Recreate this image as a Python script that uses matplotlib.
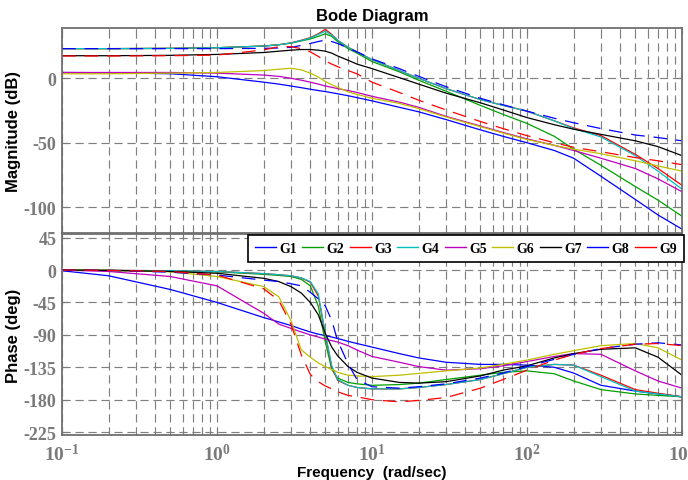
"""Bode diagram of nine transfer functions G1..G9"""

import matplotlib
matplotlib.use('Agg')
import matplotlib.pyplot as plt
from matplotlib.lines import Line2D
from matplotlib.ticker import LogLocator, NullFormatter

# frequencies the curves were read at (rad/sec)
w = [0.1, 0.2, 0.5, 1, 2, 2.5, 3, 3.5, 4, 4.5, 5, 5.5, 6, 7, 8, 10,
     15, 20, 30, 50, 70, 100, 150, 200, 300, 500, 700, 1000]

# magnitude (dB)
mag_g1 = [4.5, 4.3, 3.5, 1.2, -3, -4.5, -6, -7.3, -8.5, -9.5, -10.3, -11.2, -12, -13.5, -15, -17.5,
          -22.5, -26, -32, -40, -45, -50, -56, -62, -76, -94, -106, -117]
mag_g2 = [23, 23, 23.2, 23.7, 25, 26, 27.2, 29, 30.5, 32.5, 34.5, 32.5, 28.5, 23, 19.5, 13,
          5, -1.5, -10, -21, -28, -35, -45, -55, -67.5, -84, -94.5, -107]
mag_g3 = [23, 23, 23.2, 23.7, 25, 26, 27.5, 29.5, 31.5, 34.5, 38, 34, 29.5, 24, 20.5, 14.5,
          6, 0, -8, -16.5, -21, -25.5, -33, -38.5, -44.5, -59, -70, -83]
mag_g4 = [23, 23, 23.2, 23.7, 25, 26, 27.4, 29.3, 31.2, 34, 36.5, 33.5, 29.5, 24, 20.5, 14.5,
          6, 0, -8, -16.5, -21, -25.5, -33, -39, -45.5, -60, -72, -86]
mag_g5 = [4.5, 4.5, 4.5, 4, 2.5, 1.5, 0, -1.5, -3, -4.5, -6, -7, -8, -9.5, -11, -14,
          -18.5, -22.5, -29.5, -37, -42, -47, -52, -56, -62, -70, -78, -88]
mag_g6 = [3.5, 3.5, 4, 4.5, 6, 7, 7.8, 6.5, 4, 1, -2.5, -5, -7, -10.5, -12.5, -15.5,
          -19.5, -23.5, -30, -37.5, -42.5, -47.5, -52, -55, -58.5, -64, -68, -72]
mag_g7 = [17.5, 17.5, 17.8, 18.5, 20, 21, 21.8, 22.3, 22.3, 21.8, 21, 19.5, 17.3, 14, 11, 7.5,
          0.5, -4.5, -11.5, -19, -24.5, -30.5, -36, -39.5, -43.5, -48.5, -53, -60]
mag_g8 = [23, 23, 23, 23, 23.2, 23.5, 24, 25.5, 27, 28.5, 29.7, 28.5, 27, 23.5, 20.5, 15,
          7.5, 1.5, -6.5, -15.5, -20.5, -25.5, -31, -34.5, -39, -44, -46, -48.5]
mag_g9 = [17.3, 17.3, 17.5, 18, 22, 24.5, 24.5, 23, 20.5, 17, 13.5, 11, 9, 6, 3.5, -3,
          -11, -17, -24.5, -33.5, -39, -44.5, -50, -53.5, -57, -61.5, -64, -67]

# phase (deg)
ph_g1 = [-1, -8, -27, -45, -66, -72, -77, -82, -86, -89, -91, -93, -95, -99, -102, -107,
         -116, -122, -128, -131, -131, -132, -135, -143, -160, -168, -172, -176]
ph_g2 = [0, -0.5, -1.5, -2.5, -6, -7.5, -9, -13, -22, -50, -100, -138, -150, -156, -158, -160,
         -159, -157, -152, -146, -142, -140, -144, -154, -166, -172, -174, -176]
ph_g3 = [0, -0.5, -1, -2, -5, -6.5, -8, -11, -17, -36, -90, -135, -153, -160, -163, -165,
         -165, -163, -159, -152, -144, -135, -131, -132, -146, -166, -171, -176]
ph_g4 = [0, -0.5, -1, -2, -5, -6.5, -8, -11, -16, -33, -88, -133, -152, -160, -163, -165,
         -165, -163, -159, -152, -144, -135, -131, -132, -148, -168, -172, -176]
ph_g5 = [0, -2, -9, -22, -60, -75, -81, -86, -90, -93, -96, -98, -100, -105, -111, -120,
         -128, -134, -139, -137, -133, -127, -120, -116, -117, -140, -154, -164]
ph_g6 = [0, -0.5, -2.5, -9, -23, -37, -70, -111, -121, -129, -134, -138, -142, -146, -147, -148,
         -146, -143.5, -140, -136, -131, -125, -117, -112, -105, -102, -108, -125]
ph_g7 = [0, -0.5, -2, -4.5, -11.5, -16, -23, -32, -45, -62, -88, -107, -119, -134, -142, -150,
         -156, -157, -155, -147, -139, -133, -122, -116, -110, -108, -121, -146]
ph_g8 = [0, -0.5, -3, -7, -14, -16, -19, -22, -31, -40, -50, -70, -98, -130, -152, -162,
         -164, -162, -158, -150, -143, -134, -124, -117, -109, -103, -101, -104]
ph_g9 = [0, -0.5, -2, -7, -26, -42, -75, -118, -145, -155, -161, -165, -169, -174, -176, -180,
         -183, -181, -177, -164, -152, -139, -125, -117, -109, -103, -102, -105]

labels = ['G1', 'G2', 'G3', 'G4', 'G5', 'G6', 'G7', 'G8', 'G9']
mags = [mag_g1, mag_g2, mag_g3, mag_g4, mag_g5, mag_g6, mag_g7, mag_g8, mag_g9]
phases = [ph_g1, ph_g2, ph_g3, ph_g4, ph_g5, ph_g6, ph_g7, ph_g8, ph_g9]

colors = ['#0000ff', '#00a000', '#ff0000', '#00bfbf', '#bf00bf', '#bfbf00', '#000000', '#0000ff', '#ff0000']
styles = ['-'] * 7 + ['--', '--']

GRAY = '#7a7a7a'
SERIF = ['Liberation Serif', 'DejaVu Serif']
NARROW = ['Liberation Sans Narrow', 'Liberation Sans', 'DejaVu Sans']

plt.rcParams['mathtext.fontset'] = 'custom'
plt.rcParams['mathtext.rm'] = 'Liberation Serif:bold'
plt.rcParams['mathtext.it'] = 'Liberation Serif:bold'
plt.rcParams['mathtext.bf'] = 'Liberation Serif:bold'


def style_axes(ax, yticks, ylim, ylabel):
    """log x axis, dashed grid and MATLAB-ish frame"""
    ax.set_xscale('log')
    ax.set_xlim(0.1, 1000)
    ax.set_ylim(*ylim)
    ax.set_yticks(yticks)
    ax.set_yticklabels([str(t) for t in yticks], family=SERIF, weight='bold', fontsize=13, color=GRAY)
    ax.xaxis.set_minor_locator(LogLocator(base=10, subs=range(2, 10)))
    ax.xaxis.set_minor_formatter(NullFormatter())
    ax.set_axisbelow(True)
    ax.grid(True, which='both', axis='x', color='#808080', lw=0.85, dashes=(7, 4))
    ax.grid(True, which='major', axis='y', color='#808080', lw=0.85, dashes=(7, 4))
    ax.tick_params(which='both', direction='in', top=True, right=True, color=GRAY, pad=4)
    ax.tick_params(which='major', length=4)
    ax.tick_params(which='minor', length=2.5)
    for s in ax.spines.values():
        s.set_color('#707070')
        s.set_linewidth(1.3)
    ax.set_ylabel(ylabel, family=NARROW, weight='bold', fontsize=12)
    ax.yaxis.set_label_coords(-0.066, 0.5)


fig = plt.figure(figsize=(6.88, 4.81), dpi=100)
ax1 = fig.add_axes([62 / 688, 1 - 234 / 481, 620 / 688, 205 / 481])
ax2 = fig.add_axes([62 / 688, 1 - 436 / 481, 620 / 688, 201 / 481])

for m, p, c, ls in zip(mags, phases, colors, styles):
    kw = dict(color=c, lw=0.9)
    if ls == '--':
        kw['dashes'] = (11, 7)
    ax1.plot(w, m, **kw)
    ax2.plot(w, p, **kw)

style_axes(ax1, [0, -50, -100], (-120, 39), 'Magnitude (dB)')
style_axes(ax2, [45, 0, -45, -90, -135, -180, -225], (-229, 50), 'Phase (deg)')

ax1.tick_params(labelbottom=False)
ax2.set_xticks([0.1, 1, 10, 100, 1000])
ax2.set_xticklabels([r'$10^{-1}$', r'$10^{0}$', r'$10^{1}$', r'$10^{2}$', r'$10^{3}$'],
                    fontsize=14, color=GRAY)
ax2.tick_params(axis='x', which='major', pad=6)

ax1.set_title('Bode Diagram', family=NARROW, weight='bold', fontsize=12, pad=6)
ax2.set_xlabel('Frequency  (rad/sec)', family=NARROW, weight='bold', fontsize=11)
ax2.xaxis.set_label_coords(0.5, -0.148)

# legend lines are all solid, even for the dashed G8/G9
handles = [Line2D([], [], color=c, lw=1.0) for c in colors]
leg = ax2.legend(handles, labels, loc='upper right', bbox_to_anchor=(1.003, 0.995), ncol=9,
                 prop=dict(family=SERIF, weight='bold', size=10), frameon=True, fancybox=False,
                 handlelength=1.5, handletextpad=0.25, columnspacing=0.4, borderpad=0.5,
                 borderaxespad=0.0)
leg.get_frame().set_edgecolor('black')
leg.get_frame().set_linewidth(1.2)
leg.get_frame().set_alpha(1)

fig.savefig('out.png', dpi=100)
